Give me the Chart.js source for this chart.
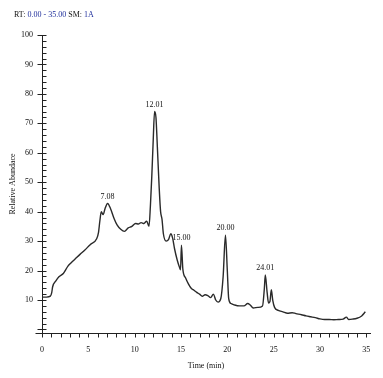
<!DOCTYPE html>
<html lang="en">
<head>
<meta charset="UTF-8">
<title>Chromatogram</title>
<script src="https://cdn.jsdelivr.net/npm/chart.js@4.4.0/dist/chart.umd.min.js"></script>
<style>
  body { margin: 0; background: #fff; }
  #wrap { width: 383px; height: 378px; position: relative; }
</style>
</head>
<body>
<div id="wrap"><canvas id="myChart"></canvas></div>
<script>
// retention time (min) and relative abundance
const times = [0.0, 0.5, 0.9, 1.05, 1.15, 1.5, 1.8, 2.3, 2.8, 3.2, 3.6, 4.1, 4.6, 5.2, 5.9, 6.1, 6.25, 6.4, 6.6, 6.8, 7.08, 7.4, 7.8, 8.1, 8.5, 8.9,
  9.3, 9.7, 10.1, 10.4, 10.7, 11.0, 11.3, 11.55, 11.7, 11.85, 12.0, 12.15, 12.3, 12.45, 12.65, 12.8, 12.95, 13.1, 13.4, 13.65, 13.9, 14.1,
  14.3, 14.6, 14.85, 14.95, 15.05, 15.2, 15.5, 15.8, 16.1, 16.4, 16.7, 17.0, 17.3, 17.6, 17.9, 18.2, 18.5, 18.75, 19.0, 19.3, 19.55, 19.8,
  20.0, 20.15, 20.4, 20.8, 21.3, 21.8, 22.2, 22.5, 22.8, 23.3, 23.8, 24.0, 24.1, 24.3, 24.45, 24.6, 24.75, 24.9, 25.1, 25.5, 26.0, 26.5,
  27.0, 27.4, 28.0, 28.5, 29.0, 29.5, 30.0, 30.5, 31.0, 31.5, 32.0, 32.5, 32.85, 33.1, 33.5, 34.0, 34.5, 34.9];
const abundance = [11.0, 11.0, 11.3, 12.5, 14.5, 16.5, 17.8, 19.0, 21.5, 22.8, 24.0, 25.5, 26.9, 28.8, 30.8, 33.0, 37.0, 40.0, 39.0, 41.0, 42.8, 41.0, 37.5, 35.5, 34.0, 33.3,
  34.5, 35.0, 36.0, 35.8, 36.3, 36.0, 36.8, 35.0, 42.0, 52.0, 64.0, 74.0, 72.0, 62.0, 48.0, 40.0, 37.5, 32.5, 30.0, 30.5, 32.5, 31.0,
  27.5, 23.5, 21.0, 20.3, 28.6, 20.5, 17.5, 15.5, 14.0, 13.3, 12.6, 12.0, 11.3, 11.8, 11.5, 10.8, 12.0, 10.0, 9.3, 10.5, 18.0, 32.0,
  20.0, 10.5, 8.8, 8.3, 8.0, 8.0, 8.8, 8.2, 7.3, 7.5, 8.0, 14.0, 18.5, 12.5, 9.0, 9.5, 13.5, 10.0, 7.5, 6.5, 6.0, 5.5,
  5.7, 5.4, 5.0, 4.6, 4.3, 4.0, 3.6, 3.4, 3.4, 3.3, 3.4, 3.5, 4.2, 3.4, 3.5, 3.8, 4.6, 6.0];

const peakLabels = ['7.08', '12.01', '15.00', '20.00', '24.01'];
const peakTimes = [7.08, 12.15, 15.05, 19.8, 24.1];

const xTicks = [0, 5, 10, 15, 20, 25, 30, 35];
const yTicks = [10, 20, 30, 40, 50, 60, 70, 80, 90, 100];

const serif = '"Liberation Serif", "DejaVu Serif", serif';

// tick marks, axis crossing, peak labels and the RT header
const chromDeco = {
  id: 'chromDeco',
  afterDraw(chart) {
    const { ctx, scales: { x, y } } = chart;
    const ax = Math.round(x.left) + 0.5;
    const ay = Math.round(y.bottom) + 0.5;
    ctx.save();
    ctx.strokeStyle = '#222';
    ctx.lineWidth = 1;
    ctx.beginPath();
    ctx.moveTo(ax - 7, ay); ctx.lineTo(ax, ay);
    ctx.moveTo(ax, ay); ctx.lineTo(ax, ay + 4);
    for (let v = 0; v <= 100; v += 2) {
      const py = Math.round(y.getPixelForValue(v)) + 0.5;
      if (v % 10 === 0) { ctx.moveTo(ax - 5, py); ctx.lineTo(ax + 4, py); }
      else { ctx.moveTo(ax, py); ctx.lineTo(ax + 4, py); }
    }
    for (let t = 1; t <= 35; t++) {
      const px = Math.round(x.getPixelForValue(t)) + 0.5;
      ctx.moveTo(px, ay); ctx.lineTo(px, ay + 4);
    }
    ctx.stroke();

    // peak labels above the apex
    ctx.font = '8px ' + serif;
    ctx.fillStyle = '#111';
    ctx.textAlign = 'center';
    ctx.textBaseline = 'bottom';
    peakLabels.forEach((lab, i) => {
      let best = 0;
      times.forEach((t, j) => { if (Math.abs(t - peakTimes[i]) < Math.abs(times[best] - peakTimes[i])) best = j; });
      const px = x.getPixelForValue(times[best]);
      const py = y.getPixelForValue(abundance[best]);
      ctx.fillText(lab, px, py - 3);
    });

    // header
    const parts = [['RT: ', '#111'], ['0.00 - 35.00', '#1f2f9c'], [' SM: ', '#111'], ['1A', '#1f2f9c']];
    ctx.textAlign = 'left';
    ctx.textBaseline = 'middle';
    let hx = 14;
    parts.forEach(([txt, col]) => {
      ctx.fillStyle = col;
      ctx.fillText(txt, hx, 15);
      hx += ctx.measureText(txt).width;
    });
    ctx.restore();
  }
};

const ctx = document.getElementById('myChart').getContext('2d');
const myChart = new Chart(ctx, {
  type: 'line',
  data: {
    datasets: [{
      data: times.map((t, i) => ({ x: t, y: abundance[i] })),
      borderColor: '#2a2a2a',
      borderWidth: 1.4,
      pointRadius: 0,
      cubicInterpolationMode: 'monotone',
      fill: false
    }]
  },
  options: {
    responsive: true,
    maintainAspectRatio: false,
    animation: false,
    layout: { padding: { top: 35, right: 13, left: 0, bottom: 0 } },
    plugins: { legend: { display: false }, tooltip: { enabled: false } },
    scales: {
      x: {
        type: 'linear',
        min: 0,
        max: 35.4,
        afterFit: s => { s.height = 45; },
        afterBuildTicks: s => { s.ticks = xTicks.map(v => ({ value: v })); },
        grid: { display: false, drawTicks: false },
        border: { display: true, color: '#222', width: 1 },
        ticks: { color: '#111', font: { family: serif, size: 8 }, padding: 12, maxRotation: 0 },
        title: { display: true, text: 'Time (min)', color: '#111', font: { family: serif, size: 8 }, padding: { top: 0, bottom: 7 } }
      },
      y: {
        min: -1.2,
        max: 100,
        afterFit: s => { s.width = 42; },
        afterBuildTicks: s => { s.ticks = yTicks.map(v => ({ value: v })); },
        grid: { display: false, drawTicks: false },
        border: { display: true, color: '#222', width: 1 },
        ticks: { color: '#111', font: { family: serif, size: 8 }, padding: 9 },
        title: { display: true, text: 'Relative Abundace', color: '#111', font: { family: serif, size: 8 }, padding: { top: 8, bottom: 0 } }
      }
    }
  },
  plugins: [chromDeco]
});
</script>
</body>
</html>
